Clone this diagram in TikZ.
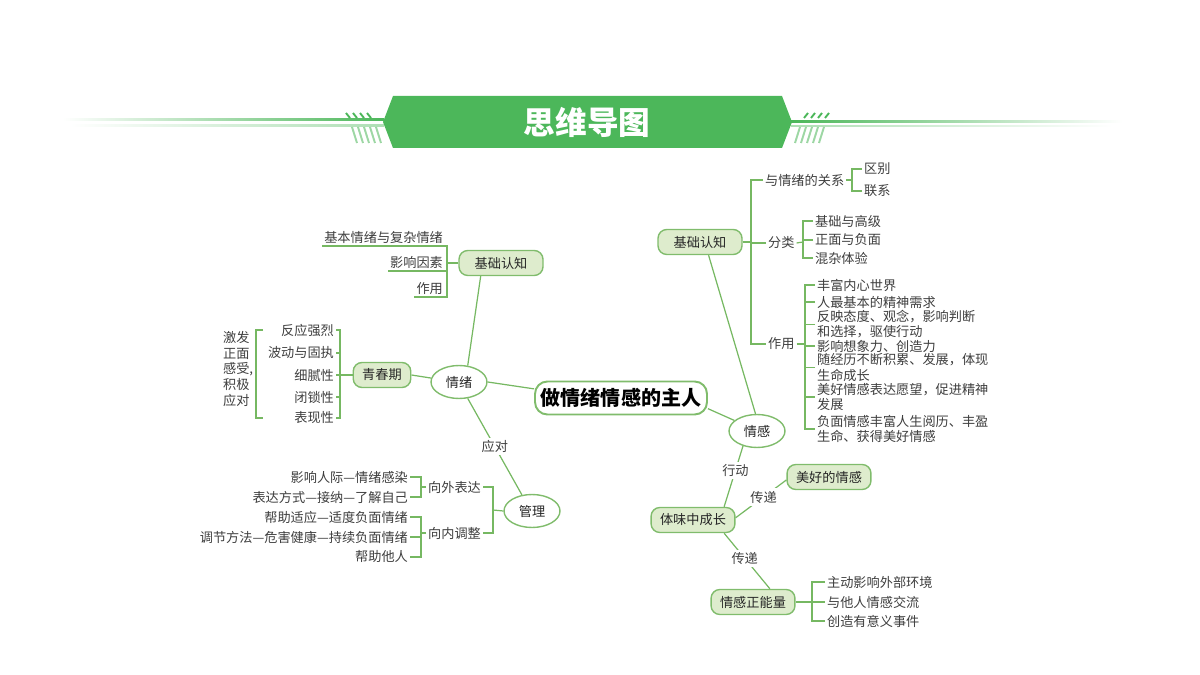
\documentclass[tikz,border=0pt]{standalone}
\usepackage{fontspec}
\setmainfont{Noto Sans CJK SC}
\usetikzlibrary{shapes.geometric,positioning,calc}
\definecolor{bannergreen}{RGB}{76,183,90}
\definecolor{lineg}{RGB}{118,184,98}
\definecolor{nodeline}{RGB}{128,188,108}
\definecolor{nodefill}{RGB}{222,236,205}
\definecolor{leafgray}{RGB}{62,62,62}
\tikzset{
  link/.style={draw=lineg, line width=0.7pt},
  topic/.style={draw=nodeline, fill=nodefill, line width=0.8pt, rounded corners=5pt,
    minimum height=0.5cm, inner xsep=0.18cm, text=black!85, font=\fontsize{7.5}{8.6}\selectfont},
  wide/.style={minimum width=1.68cm},
  oval/.style={ellipse, draw=nodeline, fill=white, line width=0.8pt, minimum width=1.12cm,
    minimum height=0.66cm, inner sep=0pt, text=black!85, font=\fontsize{7.5}{8.6}\selectfont},
  rootbox/.style={draw=nodeline, fill=white, line width=1.1pt, rounded corners=7pt,
    minimum width=3.44cm, minimum height=0.66cm, font=\fontsize{11.4}{13}\selectfont\bfseries},
  leaf/.style={text=leafgray, inner sep=1pt, font=\fontsize{7.5}{8.6}\selectfont},
  tag/.style={leaf, fill=white, inner sep=1.5pt},
}

\begin{document}
\begin{tikzpicture}[x=0.02cm, y=-0.02cm]
    \useasboundingbox (0,0) rectangle (1200,675);

    % Title banner
    \shade[left color=white, right color=bannergreen] (63,119) rectangle (384,121);
    \shade[left color=white, right color=bannergreen!45] (70,125) rectangle (384,126.5);
    \shade[left color=bannergreen, right color=white] (791,121) rectangle (1122,123);
    \shade[left color=bannergreen!45, right color=white] (791,125.5) rectangle (1112,127);
    \foreach \i in {0,...,3} {
        \draw[bannergreen, line width=1.1pt] ({346+7*\i},113) -- ({350+7*\i},118);
        \draw[bannergreen, line width=1.1pt] ({804+7*\i},118) -- ({808+7*\i},113);
    }
    \foreach \i in {0,...,4} {
        \draw[bannergreen!55, line width=1.1pt] ({352+6*\i},127) -- ({357+6*\i},143);
        \draw[bannergreen!55, line width=1.1pt] ({795+6*\i},143) -- ({800+6*\i},127);
    }
    \fill[bannergreen] (383,122) -- (393,96) -- (782,96) -- (792,122) -- (782,148) -- (393,148) -- cycle;
    \node[font=\fontsize{18}{20}\selectfont\bfseries, text=white] (title) at (587,122) {思维导图};

    % Main nodes
    \node[rootbox] (root) at (621,398) {做情绪情感的主人};
    \node[oval] (qx) at (459,382) {情绪};
    \node[oval] (qg) at (757,431) {情感};
    \node[oval] (gl) at (532,511) {管理};
    \node[topic, wide] (jcl) at (501,263) {基础认知};
    \node[topic] (qcq) at (382,375) {青春期};
    \node[topic, wide] (jcr) at (700,242) {基础认知};
    \node[topic] (twcz) at (693,520) {体味中成长};
    \node[topic] (mhqg) at (829,477) {美好的情感};
    \node[topic] (qgzn) at (753,602) {情感正能量};

    % Branches
    \draw[link] (qx.east) -- (root.174);
    \draw[link] (qx.62) -- (jcl.213);
    \draw[link] (qcq.east) -- (qx.172);
    \draw[link] (qx.298) -- node[tag, midway] {应对} (gl.122);
    \draw[link] (root.353) -- (qg.155);
    \draw[link] (qg.95) -- (jcr.303);
    \draw[link] (qg.227) -- node[tag, pos=0.4] {行动} (twcz.23);
    \draw[link] (twcz.3) -- node[tag, pos=0.55] {传递} (mhqg.184);
    \draw[link] (twcz.337) -- node[tag, pos=0.45] {传递} (qgzn.38);

    % 基础认知 (left)
    \coordinate (jclb) at (447,263);
    \node[leaf, anchor=south east] (jl1) at (445,246) {基本情绪与复杂情绪};
    \node[leaf, anchor=south east] (jl2) at (445,271) {影响因素};
    \node[leaf, anchor=south east] (jl3) at (445,297) {作用};
    \draw[link] (jcl.west) -- (jclb);
    \draw[link] (jl1.south west) -- (jl1.south west -| jclb) -- (jl3.south west -| jclb) -- (jl3.south west);
    \draw[link] (jl2.south west) -- (jl2.south west -| jclb);

    % 青春期
    \coordinate (qcqb) at (340,375);
    \node[leaf, anchor=east] (q1) at (336,330) {反应强烈};
    \node[leaf, anchor=east] (q2) at (336,353) {波动与固执};
    \node[leaf, anchor=east] (q3) at (336,375) {细腻性};
    \node[leaf, anchor=east] (q4) at (336,397) {闭锁性};
    \node[leaf, anchor=east] (q5) at (336,418) {表现性};
    \draw[link] (qcq.west) -- (q3.east);
    \draw[link] (q1.east) -- (q1.east -| qcqb) -- (q5.east -| qcqb) -- (q5.east);
    \draw[link] (q2.east) -- (q2.east -| qcqb);
    \draw[link] (q4.east) -- (q4.east -| qcqb);
    \coordinate (jfb) at (256,374);
    \node[leaf, anchor=west, align=left, font=\fontsize{7.5}{9}\selectfont] (jf) at (221,369) {激发\\正面\\感受,\\积极\\应对};
    \draw[link] ($(jfb |- q1)+(7,0)$) -- (jfb |- q1) -- (jfb |- q5) -- ($(jfb |- q5)+(7,0)$);

    % 管理
    \coordinate (glb) at (493,510);
    \node[leaf, anchor=east] (wx) at (483,487) {向外表达};
    \node[leaf, anchor=east] (nt) at (483,533) {向内调整};
    \draw[link] (gl.west) -- (glb);
    \draw[link] (wx.east) -- (wx.east -| glb) -- (nt.east -| glb) -- (nt.east);
    \coordinate (wxb) at (421,487);
    \node[leaf, anchor=east] (w1) at (410,477) {影响人际—情绪感染};
    \node[leaf, anchor=east] (w2) at (410,497) {表达方式—接纳—了解自己};
    \draw[link] (wx.west) -- (wxb);
    \draw[link] (w1.east) -- (w1.east -| wxb) -- (w2.east -| wxb) -- (w2.east);
    \coordinate (ntb) at (421,533);
    \node[leaf, anchor=east] (n1) at (410,517) {帮助适应—适度负面情绪};
    \node[leaf, anchor=east] (n2) at (410,537) {调节方法—危害健康—持续负面情绪};
    \node[leaf, anchor=east] (n3) at (410,557) {帮助他人};
    \draw[link] (nt.west) -- (ntb);
    \draw[link] (n1.east) -- (n1.east -| ntb) -- (n3.east -| ntb) -- (n3.east);
    \draw[link] (n2.east) -- (n2.east -| ntb);

    % 基础认知 (right)
    \coordinate (jcrb) at (751,242);
    \node[leaf, anchor=west] (r1) at (763,180) {与情绪的关系};
    \node[leaf, anchor=west] (r2) at (766,243) {分类};
    \node[leaf, anchor=west] (r3) at (766,344) {作用};
    \draw[link] (jcr.east) -- (jcrb);
    \draw[link] (r1.west) -- (r1.west -| jcrb) -- (r3.west -| jcrb) -- (r3.west);
    \draw[link] (r2.west) -- (r2.west -| jcrb);

    \coordinate (r1b) at (852,180);
    \node[leaf, anchor=west] (s1) at (862,169) {区别};
    \node[leaf, anchor=west] (s2) at (862,191) {联系};
    \draw[link] (r1.east) -- (r1b);
    \draw[link] (s1.west) -- (s1.west -| r1b) -- (s2.west -| r1b) -- (s2.west);

    \coordinate (r2b) at (803,242);
    \node[leaf, anchor=west] (c1) at (813,221) {基础与高级};
    \node[leaf, anchor=west] (c2) at (813,240) {正面与负面};
    \node[leaf, anchor=west] (c3) at (813,258) {混杂体验};
    \draw[link] (r2.east) -- (r2b);
    \draw[link] (c1.west) -- (c1.west -| r2b) -- (c3.west -| r2b) -- (c3.west);
    \draw[link] (c2.west) -- (c2.west -| r2b);

    \coordinate (r3b) at (805,344);
    \node[leaf, anchor=west] (a1) at (815,285) {丰富内心世界};
    \node[leaf, anchor=west] (a2) at (815,302) {人最基本的精神需求};
    \node[leaf, anchor=west, align=left] (a3) at (815,324.5) {反映态度、观念，影响判断\\和选择，驱使行动};
    \node[leaf, anchor=west] (a4) at (815,346) {影响想象力、创造力};
    \node[leaf, anchor=west, align=left] (a5) at (815,367.5) {随经历不断积累、发展，体现\\生命成长};
    \node[leaf, anchor=west, align=left] (a6) at (815,397) {美好情感表达愿望，促进精神\\发展};
    \node[leaf, anchor=west, align=left] (a7) at (815,429) {负面情感丰富人生阅历、丰盈\\生命、获得美好情感};
    \draw[link] (r3.east) -- (r3b);
    \draw[link] (a1.west) -- (a1.west -| r3b) -- (a7.west -| r3b) -- (a7.west);
    \draw[link] (a2.west) -- (a2.west -| r3b);
    \draw[link] (a3.west) -- (a3.west -| r3b);
    \draw[link] (a4.west) -- (a4.west -| r3b);
    \draw[link] (a5.west) -- (a5.west -| r3b);
    \draw[link] (a6.west) -- (a6.west -| r3b);

    % 情感正能量
    \coordinate (qgznb) at (812,602);
    \node[leaf, anchor=west] (e1) at (825,582) {主动影响外部环境};
    \node[leaf, anchor=west] (e2) at (825,602) {与他人情感交流};
    \node[leaf, anchor=west] (e3) at (825,621) {创造有意义事件};
    \draw[link] (qgzn.east) -- (e2.west);
    \draw[link] (e1.west) -- (e1.west -| qgznb) -- (e3.west -| qgznb) -- (e3.west);
\end{tikzpicture}
\end{document}
